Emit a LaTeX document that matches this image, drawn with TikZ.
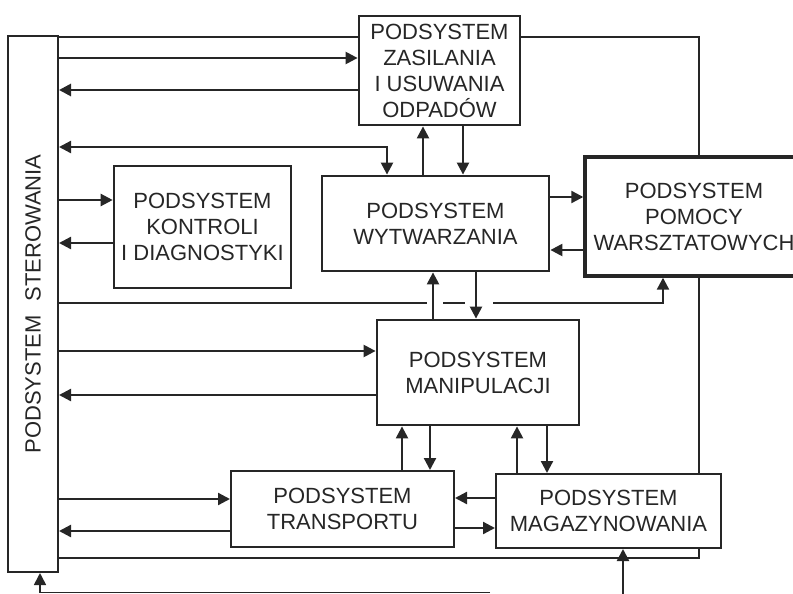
\documentclass[tikz,border=0pt]{standalone}
\usepackage{fontspec}
\setmainfont{Liberation Sans}
\usetikzlibrary{arrows.meta}
\definecolor{lc}{HTML}{262626}
\begin{document}
\begin{tikzpicture}[x=1pt,y=-1pt,
  ln/.style={draw=lc, line width=2.3pt},
  thinln/.style={draw=lc, line width=1.7pt},
  arr/.style={ln, -{Triangle[length=12pt,width=12pt]}},
  darr/.style={ln, {Triangle[length=12pt,width=12pt]}-{Triangle[length=12pt,width=12pt]}},
  box/.style={draw=lc, line width=2.6pt, inner sep=0pt, align=center, text=lc,
    font=\fontsize{22}{26}\selectfont},
  lbl/.style={text=lc, inner sep=0pt, font=\fontsize{22}{26}\selectfont},
]
\useasboundingbox (0,0) rectangle (793,594);
% boxes
\node[box, line width=2pt, minimum width=50, minimum height=536] (ster) at (33,304) {};
\node[lbl, rotate=90] (stertxt) at (ster.center) {PODSYSTEM\hspace{14pt}STEROWANIA};
\node[box, line width=2.8pt, minimum width=161, minimum height=109] (zas) at (439.5,70.5) {PODSYSTEM\\ZASILANIA\\I USUWANIA\\ODPADÓW};
\node[box, minimum width=177, minimum height=122] (kon) at (202.5,227) {PODSYSTEM\\KONTROLI\\I DIAGNOSTYKI};
\node[box, line width=2.8pt, minimum width=227, minimum height=95] (wyt) at (435.5,223.5) {PODSYSTEM\\WYTWARZANIA};
\node[box, line width=3.4pt, minimum width=218, minimum height=119] (pom) at (694,216.5) {PODSYSTEM\\POMOCY\\WARSZTATOWYCH};
\node[box, line width=2.8pt, minimum width=202, minimum height=105] (man) at (478,372.5) {PODSYSTEM\\MANIPULACJI};
\node[box, line width=2pt, minimum width=223, minimum height=76] (tra) at (342.5,509) {PODSYSTEM\\TRANSPORTU};
\node[box, line width=2pt, minimum width=225, minimum height=74] (mag) at (608.5,511) {PODSYSTEM\\MAGAZYNOWANIA};
% free ends
\coordinate (g1) at (427,303);
\coordinate (g2) at (443,303);
\coordinate (g3) at (465,303);
\coordinate (g4) at (493,303);
\coordinate (botL) at (40,592.5);
\coordinate (botR) at (490,592.5);
\coordinate (magIn) at (623,594);
% outer loop
\draw[thinln] (ster.east |- 0,37) -- (zas.west |- 0,37);
\draw[thinln] (zas.east |- 0,37) -| (pom.north -| 699,0);
\draw[thinln] (pom.south -| 699,0) -- (mag.north -| 699,0);
\draw[thinln] (mag.south -| 699,0) |- (ster.east |- 0,558);
% connectors
\draw[arr] (ster.east |- 0,58) -- (zas.west |- 0,58);
\draw[arr, line width=2.8pt] (zas.west |- 0,90) -- (ster.east |- 0,90);
\draw[darr] (ster.east |- 0,147) -| (wyt.north -| 387,0);
\draw[arr] (ster.east |- 0,200) -- (kon.west |- 0,200);
\draw[arr] (kon.west |- 0,243) -- (ster.east |- 0,243);
\draw[arr] (wyt.north -| 423,0) -- (zas.south -| 423,0);
\draw[arr] (zas.south -| 463,0) -- (wyt.north -| 463,0);
\draw[arr] (wyt.east |- 0,197) -- (pom.west |- 0,197);
\draw[arr] (pom.west |- 0,250) -- (wyt.east |- 0,250);
\draw[arr] (man.north -| 433,0) -- (wyt.south -| 433,0);
\draw[arr] (wyt.south -| 476,0) -- (man.north -| 476,0);
\draw[ln] (ster.east |- g1) -- (g1);
\draw[ln] (g2) -- (g3);
\draw[arr] (g4) -| (pom.south -| 663,0);
\draw[arr] (ster.east |- 0,351) -- (man.west |- 0,351);
\draw[arr] (man.west |- 0,395) -- (ster.east |- 0,395);
\draw[arr] (tra.north -| 402,0) -- (man.south -| 402,0);
\draw[arr] (man.south -| 430,0) -- (tra.north -| 430,0);
\draw[arr] (mag.north -| 517,0) -- (man.south -| 517,0);
\draw[arr] (man.south -| 547,0) -- (mag.north -| 547,0);
\draw[arr] (ster.east |- 0,499) -- (tra.west |- 0,499);
\draw[arr] (tra.west |- 0,531) -- (ster.east |- 0,531);
\draw[arr] (mag.west |- 0,498) -- (tra.east |- 0,498);
\draw[arr] (tra.east |- 0,528) -- (mag.west |- 0,528);
\draw[arr, line width=1.6pt] (botR) -| (ster.south -| botL);
\draw[arr] (magIn) -- (mag.south -| magIn);
\end{tikzpicture}
\end{document}
